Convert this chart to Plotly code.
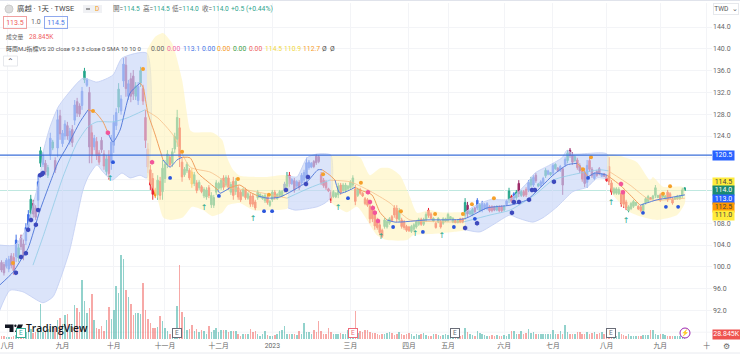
import plotly.graph_objects as go

# Candle colour codes: B blue, P crimson, R red, G green, O orange
codes = ("PPBBPRBGPP" "BBGPPBGBPG" "BGPBPBBPBP" "BPPBGBPRBR" "RPRGRBBBGB"
         "BPBPPGBGRR" "RRROGRGGGR" "GGGRRGGROG" "RGRGGRGGGG" "GRGRGRGRRG"
         "RGRRRGGGGR" "GGRGGGBGRB" "PBPBBBBBPP" "PRRRRRGGGR" "GGGGGRGRRR"
         "RRRRRRRGGG" "RRRGRRRRGG" "GGRGGRRGRG" "RGGGGGRGRR" "GPGGPBGBBB"
         "RRPGRRGBGR" "BGPGRRBGBP" "GBBGBGBGPB" "PBGPPGRPRP" "BRPBPPBPRR"
         "RGGGRRRGGG" "GRRGGGRGGG" "RGGRRRGGGGG")

opens = [100.8,100.4,100.1,99.6,102.0,101.7,101.9,101.6,105.3,104.2,
 104.8,107.2,109.8,111.6,110.8,112.2,119.0,118.8,119.0,116.8,
 120.6,121.8,119.5,121.8,127.7,122.6,124.0,125.9,123.0,125.2,
 126.9,130.3,129.5,129.6,134.3,133.3,132.0,124.6,122.0,123.0,
 120.9,123.2,120.7,117.5,120.3,119.1,122.3,125.9,129.3,128.6,
 134.1,137.0,131.3,134.5,135.0,131.3,130.5,133.7,132.7,127.4,
 121.6,117.8,116.2,114.1,113.2,115.7,113.8,116.2,118.8,120.1,
 119.0,121.6,123.4,125.5,119.2,116.9,117.6,117.7,117.4,115.3,
 115.4,114.5,114.7,113.0,112.8,114.5,111.4,111.3,113.7,114.4,
 114.5,116.3,115.0,116.3,113.7,115.7,113.8,114.5,113.7,113.1,
 114.1,112.6,113.0,113.0,111.9,112.7,112.8,112.5,112.1,112.8,
 111.3,112.3,113.7,112.5,113.1,113.1,114.0,114.8,116.8,115.3,
 115.8,114.8,115.5,115.4,115.9,116.3,118.2,118.3,119.3,120.3,
 120.2,116.9,115.9,115.5,114.3,113.6,112.9,112.8,113.2,115.0,
 114.0,114.0,114.3,114.5,115.0,114.3,113.1,114.2,113.5,112.5,
 112.3,111.1,110.7,109.7,108.6,107.7,106.7,107.4,107.3,108.0,
 109.2,110.8,110.7,108.7,108.6,108.2,107.4,107.3,106.5,106.9,
 107.3,107.8,108.7,107.8,108.6,110.4,109.7,108.4,108.0,108.2,
 108.3,108.0,108.4,108.5,108.7,108.2,108.5,108.1,108.8,108.8,
 109.4,111.3,109.7,109.6,110.8,110.8,110.3,110.4,110.7,110.7,
 111.0,111.0,111.0,110.4,111.0,111.0,110.4,111.4,112.3,112.9,
 112.6,112.7,115.3,113.1,113.8,114.2,114.1,115.0,115.0,116.8,
 114.8,114.9,115.3,116.7,117.0,116.9,117.2,118.0,118.1,117.7,
 118.0,118.7,119.5,121.4,120.5,119.5,119.6,118.6,117.6,117.4,
 115.5,119.5,117.9,116.2,117.5,118.0,116.6,117.1,116.6,118.4,
 115.4,113.5,113.5,113.4,113.5,113.4,111.9,110.3,110.7,111.1,
 111.3,111.1,111.0,110.3,111.7,112.0,112.7,112.5,113.1,112.7,
 113.2,112.8,112.5,113.7,113.4,112.5,112.4,112.5,112.5,113.0,114.5]

highs = [101.2,100.9,101.6,102.0,102.5,102.5,105.9,104.2,105.9,105.0,
 108.0,110.4,113.2,112.3,111.3,116.8,122.0,121.0,119.6,118.7,
 124.6,123.3,120.1,128.8,128.8,125.1,126.9,126.6,125.5,126.0,
 130.6,131.0,130.0,133.0,136.5,134.6,133.0,126.0,124.2,123.8,
 121.4,123.8,121.4,120.5,121.4,124.2,127.9,129.1,133.7,131.5,
 138.3,138.5,134.3,135.6,136.1,133.9,133.9,136.7,133.4,128.8,
 122.7,118.7,117.2,114.5,116.8,116.5,119.6,119.6,121.4,120.5,
 121.8,124.6,128.8,127.3,120.1,118.3,119.2,118.1,118.1,117.4,
 115.9,115.9,115.0,114.6,114.6,115.0,113.7,113.2,115.9,115.6,
 116.3,116.8,116.8,116.8,115.6,116.5,116.3,115.0,114.1,114.5,
 114.5,113.7,113.5,113.5,112.3,114.1,113.5,113.2,113.5,113.2,
 112.3,114.1,114.1,113.5,114.1,114.1,115.6,117.4,117.4,116.3,
 116.3,115.9,115.9,117.2,117.8,120.0,119.6,119.2,119.6,120.7,
 120.5,117.4,116.3,115.9,114.5,114.1,114.1,113.7,115.4,115.4,
 115.4,115.4,115.0,115.9,116.8,115.0,114.5,114.5,113.7,112.8,
 112.6,111.9,111.3,110.4,109.0,108.2,107.0,109.0,108.6,109.1,
 109.5,111.3,111.3,110.8,109.0,108.6,107.7,107.5,107.7,108.0,
 108.6,109.0,109.0,109.0,110.0,110.8,110.0,109.1,108.2,109.1,
 108.6,109.1,109.0,109.9,109.3,109.1,108.6,108.6,109.0,109.0,
 112.6,111.9,110.4,110.8,111.0,112.6,111.7,112.1,111.7,111.9,
 111.3,111.3,111.2,111.3,111.3,111.3,111.3,112.3,114.5,113.2,
 113.7,114.1,115.9,114.1,114.1,114.6,115.9,116.5,116.8,117.2,
 115.4,115.9,116.5,118.1,117.8,117.4,119.0,119.0,118.3,118.7,
 118.3,120.1,121.4,121.8,121.0,120.5,120.0,119.0,118.1,118.1,
 119.6,120.0,118.3,117.4,117.8,118.3,117.2,117.2,116.8,120.1,
 115.9,114.6,114.6,114.6,114.1,114.1,112.3,111.3,111.9,112.3,
 111.9,111.3,111.3,111.7,112.8,113.2,112.8,113.2,115.0,113.2,
 113.5,113.5,113.2,114.1,113.7,112.8,112.8,113.2,113.2,114.5,114.5]

lows = [99.0,98.4,99.7,99.0,99.7,98.5,100.9,100.9,103.1,101.2,
 104.0,106.4,109.0,109.0,108.6,111.0,118.3,118.3,116.8,116.3,
 119.6,121.4,117.2,120.1,123.3,122.0,123.3,123.3,122.4,122.0,
 126.0,127.5,127.5,128.8,133.7,133.0,119.0,119.0,121.4,119.6,
 118.7,120.9,117.8,116.8,116.0,117.8,120.9,125.1,128.2,127.9,
 133.0,131.2,130.6,130.2,130.6,130.6,129.7,133.0,129.7,121.8,
 117.2,114.1,112.3,112.6,112.3,112.3,112.3,115.4,118.1,118.3,
 118.3,120.9,122.0,118.3,115.6,116.5,117.2,115.9,114.5,114.8,
 113.5,114.1,113.5,112.6,112.3,112.6,110.8,110.8,113.2,114.1,
 114.1,114.1,114.6,114.1,113.2,112.3,113.2,112.3,111.9,112.8,
 112.3,112.3,111.0,111.0,110.4,112.3,112.6,112.3,111.7,111.4,
 111.0,111.9,112.3,112.3,112.8,112.8,113.6,114.1,114.6,115.0,
 113.6,114.5,114.1,115.0,115.4,115.4,117.8,118.1,118.1,118.7,
 119.0,115.0,114.5,114.1,113.7,111.7,112.6,112.6,112.6,113.2,
 113.6,113.6,114.1,114.1,114.5,111.3,112.8,113.2,112.8,111.3,
 111.0,108.0,108.2,106.8,106.8,105.8,105.3,107.0,107.0,107.7,
 108.2,109.0,108.2,108.2,107.0,106.8,106.4,106.4,106.2,106.6,
 107.0,107.5,107.5,107.5,108.2,109.0,108.6,108.2,107.0,108.0,
 107.0,107.7,108.2,108.2,108.6,108.0,108.0,108.0,108.0,108.0,
 108.6,109.1,109.5,109.3,109.9,110.4,110.0,110.0,110.4,110.4,
 110.0,110.0,110.2,110.2,110.0,110.0,110.2,111.2,111.7,111.7,
 112.3,112.3,112.8,112.8,112.8,112.8,113.7,114.6,114.6,115.4,
 114.6,114.6,115.0,116.3,116.8,116.7,116.8,117.8,117.4,117.4,
 113.2,118.3,119.0,120.0,118.7,119.2,117.8,117.2,115.6,114.6,
 114.5,117.4,116.3,115.9,116.5,116.8,116.5,116.5,115.6,115.0,
 113.2,113.2,113.2,113.2,111.0,110.8,110.4,110.0,110.4,110.8,
 111.2,110.4,110.0,110.0,111.4,111.7,112.3,112.3,112.6,112.6,
 111.9,112.6,112.3,111.9,112.3,111.4,112.3,112.3,112.3,112.6,114.0]

closes = [99.4,98.9,101.2,101.4,100.3,99.3,104.9,103.5,103.7,102.0,
 107.2,109.6,112.4,109.7,109.1,115.6,121.3,120.5,117.4,118.2,
 123.6,122.9,117.8,127.0,124.4,124.5,126.2,124.0,124.9,122.8,
 129.7,128.2,128.0,132.2,135.9,134.3,122.0,120.4,123.6,120.4,
 119.2,121.5,118.5,119.8,117.1,122.9,126.5,128.3,132.6,130.8,
 137.2,132.7,133.6,131.3,131.7,133.2,133.1,136.0,130.4,123.2,
 118.3,115.0,113.3,113.0,115.9,113.1,118.1,118.8,120.7,118.7,
 121.1,123.9,127.4,120.1,116.5,117.9,118.8,116.3,115.2,116.9,
 114.0,115.5,113.8,114.2,114.1,113.1,113.1,112.7,115.4,115.3,
 115.9,114.6,116.4,114.6,115.1,113.1,115.7,112.8,112.3,114.2,
 112.7,113.4,111.5,111.5,110.8,113.7,113.3,113.0,113.1,111.8,
 112.0,113.7,112.7,113.3,113.8,113.8,115.2,116.7,115.2,116.0,
 114.1,115.6,114.5,116.8,117.3,119.1,119.2,119.0,118.4,119.1,
 119.3,115.5,114.9,114.5,113.9,112.2,113.8,113.5,114.8,113.6,
 115.0,115.0,114.8,115.5,116.3,112.0,114.2,113.5,113.0,111.6,
 111.3,108.8,108.8,107.5,107.2,106.3,105.6,108.6,108.3,108.8,
 108.5,109.5,108.8,110.3,107.4,107.2,106.7,106.6,107.4,107.7,
 108.3,108.7,107.8,108.7,109.6,109.4,108.9,108.9,107.2,108.9,
 107.3,108.8,108.8,109.6,109.2,108.9,108.1,108.5,108.2,108.2,
 111.8,109.7,110.2,110.5,110.1,112.2,111.4,111.7,111.4,111.6,
 110.3,110.3,110.4,111.1,110.3,110.3,111.1,112.1,113.9,112.0,
 113.4,113.7,113.4,113.8,113.1,113.2,115.5,116.1,116.4,115.8,
 115.2,115.6,116.2,117.7,117.6,117.3,118.6,118.8,117.6,118.4,
 115.0,119.7,120.9,120.4,119.2,120.2,118.2,117.6,116.1,115.3,
 118.6,117.9,116.7,117.1,116.8,117.1,117.1,116.6,115.8,115.6,
 113.7,114.3,114.3,114.2,111.6,111.5,110.8,111.0,111.6,112.0,
 111.8,110.6,110.3,111.4,112.5,112.9,112.4,113.0,114.5,113.1,
 112.2,113.3,113.0,112.3,112.6,111.7,112.7,113.0,113.0,114.1,114.0]

volumes = [32,32,24,24,20,40,48,56,72,80,
 88,100,120,72,80,112,420,80,100,120,
 112,140,128,232,248,180,284,296,160,140,
 412,372,324,712,456,316,372,540,224,132,
 124,152,92,224,384,244,344,636,552,1012,
 960,584,504,424,292,312,312,300,672,344,
 244,196,136,136,144,272,216,136,96,64,
 64,64,392,884,324,264,104,124,164,96,
 124,84,104,92,64,152,84,112,132,84,
 112,104,104,84,96,96,96,64,32,56,
 56,64,116,84,96,64,36,56,92,44,
 36,32,44,64,96,104,152,64,64,56,
 64,44,96,56,192,84,84,56,112,84,
 212,96,64,64,136,84,64,64,64,72,
 64,56,104,80,100,332,72,96,84,112,
 112,80,72,68,60,48,64,56,72,88,
 72,48,56,80,64,48,56,72,56,40,
 56,48,64,72,48,40,40,56,64,48,
 40,48,56,52,56,48,48,56,40,48,
 132,88,56,48,40,100,72,56,48,40,
 40,48,40,48,40,40,48,40,56,96,
 100,56,56,100,56,72,120,72,80,56,
 56,60,60,56,64,56,112,60,56,100,
 64,168,88,64,56,56,80,80,56,64,
 88,56,72,80,56,72,80,56,60,48,
 48,40,40,88,64,48,40,56,40,32,
 32,40,40,48,48,48,112,112,56,48,
 56,56,48,32,32,32,40,40,32,32,28.845]

tick_pos = [2.4,25,46,67,89,111,143,167,183,206,226,248,270,289]
tick_txt = ["八月","九月","十月","十一月","十二月","2023","三月","四月","五月","六月","七月","八月","九月","十"]
price_ticks = [92,96,100,104,108,124,128,132,136,140,144]
hidden_ticks = [88,112,116,120]

# Band envelopes (index, price)
b1_ux=[-1,5.5,10.5,13.7,15.8,17,19.9,23.2,26.8,33.4,39.1,45.7,49.4,59.6]
b1_uy=[104,104,107.3,112.8,116.5,120.9,125.7,129.3,131.5,134.6,133.9,135.2,138.3,139.2]
b1_lx=[-1,3.5,8.8,17,21.1,24,28,33.4,35.5,39.1,41.6,45.3,49.4,52.7,56.8,59.6]
b1_ly=[91.7,95.7,95.4,93.4,94.5,97.6,103.1,114.1,116.5,118.7,117.4,115.9,117.2,116.3,116.8,116.3]
y1_ux=[59.6,63,66.2,69.9,74,77.3,78.5,86.7,90.4,92.4,94.9,97.7,108.8,117.4]
y1_uy=[139.8,142.2,142.9,141,134.3,125.1,124.7,124.6,123.3,120.1,117.8,116.7,116.5,116.7]
y1_lx=[59.6,63.7,66.2,69.1,74.4,78.1,82.6,86.3,90.4,92.8,97.7,103.1,111.3,117.4]
y1_ly=[116.3,112.8,109.1,108.6,109.1,111,110.4,109.3,109.9,111.3,111.7,110.4,110.4,110.8]
b2_ux=[117.4,121.1,125.2,129.3,135]
b2_uy=[116.7,116.5,120,120.7,120.5]
b2_lx=[117.4,120.3,129.3,132.6,135]
b2_ly=[110.8,110.4,111,111.7,112.8]
y2_ux=[135,146.9,149,151,155.1,159.2,163.3,167.4,170.3,175.6,179.7,189.1,190]
y2_uy=[120.5,120.1,118.3,116.8,118.1,118.1,116.8,112.8,109.9,110.4,110,110,110]
y2_lx=[135,135.4,141.6,145.7,153.9,158,166.2,168.7,175.6,185,190]
y2_ly=[112.8,111.7,110,111,105.8,104.9,104.9,105.8,106,106.4,106.8]
b3_ux=[190,193.2,200.2,207.2,209.6,215.4,218.6,224.8,229.7,231.8,234.2,248.2]
b3_uy=[110,111,112.3,112.3,112.8,115.4,117.2,118.7,120,121.4,120.7,120.7]
b3_lx=[190,196.1,201.4,208.4,211.3,217.8,221.9,227.7,234.2,240,244.1,248.2]
b3_ly=[106.8,106.4,107.7,109.5,109,108.2,109,111,113.8,114.6,116.3,116.3]
y3_ux=[248.2,252.2,260.4,265.8,267,271.1,278.9,280.1]
y3_uy=[120.7,120.5,119.2,115.9,116.5,114.7,114.7,114.1]
y3_lx=[248.2,250.6,257.6,263.7,268.7,276.9,280.1]
y3_ly=[116.3,113.2,110,109,108.6,109.5,111.7]

# Fast line pieces
fast_pieces = [
 ("B",[-0.6,4.7,8.4,10.9,15.8,19.9,23.2,26.8,32.2,35.5],[96.7,99,101.6,103.4,110.4,115.4,119.2,122,126.6,128.8]),
 ("O",[35.5,38.3,41.6,43.6],[128.8,128.4,126.6,124.6]),
 ("B",[43.6,45.7,48.6,52.7,56.8],[124.6,122.9,125.1,131.9,133.7]),
 ("O",[56.8,58,60,63,66.2],[133.7,133,128.2,124.2,119.6]),
 ("B",[66.2,69.1,71.9,74],[119.6,118.3,119.6,120.1]),
 ("O",[74,77.3,80.5,84.6,88.7],[120.1,120,117.2,115.6,114.1]),
 ("B",[88.7,89.5,93.6],[114.1,113.5,114.5]),
 ("O",[93.6,97.7,101.8,105.1],[114.5,115,113.7,113]),
 ("B",[105.1,108.8,114.1,125.2,129.7,131.4],[113,112.6,112.8,115.6,117.8,117.8]),
 ("O",[131.4,134.6,136.7],[117.8,116.8,115.9]),
 ("B",[136.7,138.7,142.8,144.9],[115.9,113.5,114.1,114.6]),
 ("O",[144.9,146.9,151.8,155.1,158],[114.6,114.1,113.2,110,108.6]),
 ("B",[158,161.3,174.4,189.6,199,208.4,215.4,226,231.8,236],[108.6,108.2,108.6,108.8,110.8,111.3,112.3,116.8,118.7,119]),
 ("O",[236,238.3,240.4],[119,117.8,116.5]),
 ("B",[240.4,243.2,248.2],[116.5,117.2,116.8]),
 ("O",[248.2,253.5,257.6,261.7],[116.8,115,113.2,111.3]),
 ("B",[261.7,268.7,272.8,280.1],[111.3,112.3,112.6,113.2]),
]
# Slow line pieces
slow_pieces = [
 ("B",[12.9,17,25.2,30.9,35.5,39.1,45.7,51.4,58.8],[100.3,105.5,116.5,122.7,125.7,126.6,126.6,127.3,128.8]),
 ("O",[58.8,64.1,70.3,77.3,85.4,89.5,93.6,100.6,117],[128.8,127.3,124.2,118.3,117.4,116.3,114.5,114.1,112.6]),
 ("B",[117,126.4,134.6],[112.6,114.5,115.9]),
 ("O",[134.6,142.8,150.2,159.2,164.5,167.4,189.1],[115.9,115.6,114.1,111.7,109.5,108.6,108.2]),
 ("B",[189.1,200.2,208.4,218.6,226,233,245.3,248.7],[108.2,109.5,110.4,113.2,115.9,116.8,117.8,117.6]),
 ("O",[248.7,257.6,265.8,280.1],[117.6,115,112.3,112.6]),
]

hex_x=[5.9,8,10,10.9,12.1,14.1,15,15.8,16.6,17,116.6,124.8,125.6,190,194.9,209.2,210,212.1,216.2,217.4,218.6,226.4]
hex_y=[98.9,101.8,102.5,106.8,108.6,107.7,110.4,116.8,117,117.2,114.1,115.2,116.5,107.1,108,109.9,111.9,111.9,112.3,114.1,114.1,115.6]
org_x=[4.7,37.5,58,74,96.9,109.6,131.8,147.3,163.7,177.7,189.1,192.8,201.8,238.3,241.6,271.1,274]
org_y=[100.7,128.6,136.3,121.1,116.1,113.2,117,115.4,110.2,109.7,109.7,111.5,112.6,117.9,120.1,113.4,114.8]
pink_x=[43.6,61.7,150.2,151,152.2,153,154.3,253.9,254.7]
pink_y=[124.6,119.2,113.7,111.9,110.8,109.9,108.4,115.2,113.7]
dot_x=[45.7,69.1,89.1,107.6,110.9,142,160.5,172.7,185.4,194,240.4,262.9,272.3,277.3]
dot_y=[119.2,116.3,113,110.2,110.2,112.6,107.3,106.4,107.3,108.8,116.3,109.9,111,111]
arr_x=[44.5,83,103.1,137.9,155.5,169.5,180.5,249.8,256]
arr_y=[116.1,110.8,108.8,110.8,105.5,106,105.7,111.7,108.4]

assert len(codes)==len(opens)==len(highs)==len(lows)==len(closes)==len(volumes), (len(codes),len(opens),len(highs),len(lows),len(closes),len(volumes))

W, H = 740, 354
L, R, T, B = 0, 28, 3, 14
PW, PH = W-L-R, H-T-B
STEP = 2.44
xmin = (0-1.5)/STEP
xmax = (PW-1.5)/STEP
def py2price(y): return 144-(y-27)/5.45
def px(x): return x/PW
def py(y): return 1-(y-T)/PH

FONT = "Roboto, 'Noto Sans CJK TC', sans-serif"
CN = {"B":"#3f6fe6","P":"#9c2a68","R":"#ec2433","G":"#25a68c","O":"#f59a23"}
FILL_B = "rgba(200,214,247,0.65)"
FILL_Y = "rgba(255,243,186,0.6)"
fig = go.Figure()

for ux,uy,lx,ly,col,line in [
    (b1_ux,b1_uy,b1_lx,b1_ly,FILL_B,"#c0cdf2"),
    (y1_ux,y1_uy,y1_lx,y1_ly,FILL_Y,"rgba(0,0,0,0)"),
    (b2_ux,b2_uy,b2_lx,b2_ly,FILL_B,"#c0cdf2"),
    (y2_ux,y2_uy,y2_lx,y2_ly,FILL_Y,"rgba(0,0,0,0)"),
    (b3_ux,b3_uy,b3_lx,b3_ly,FILL_B,"#c0cdf2"),
    (y3_ux,y3_uy,y3_lx,y3_ly,FILL_Y,"rgba(0,0,0,0)")]:
    fig.add_trace(go.Scatter(x=ux+lx[::-1], y=uy+ly[::-1], mode="lines", fill="toself",
                             fillcolor=col, line=dict(color=line,width=0.8,shape="spline",smoothing=0.6), hoverinfo="skip"))

for c,xs,ys in slow_pieces:
    fig.add_trace(go.Scatter(x=xs,y=ys,mode="lines",hoverinfo="skip",
        line=dict(color="#8fcbe6" if c=="B" else "#f6c08c",width=0.8,shape="spline",smoothing=0.6)))
for c,xs,ys in fast_pieces:
    fig.add_trace(go.Scatter(x=xs,y=ys,mode="lines",hoverinfo="skip",
        line=dict(color="#5a7fdc" if c=="B" else "#f0a060",width=1,shape="spline",smoothing=0.6)))

vc = ["rgba(38,166,154,0.5)" if c in "GB" else "rgba(239,83,80,0.5)" for c in codes]
fig.add_trace(go.Bar(x=list(range(len(volumes))),y=volumes,marker=dict(color=vc,line_width=0),width=0.62,yaxis="y2",hoverinfo="skip"))

for code,col in CN.items():
    idx=[i for i,c in enumerate(codes) if c==code]
    fig.add_trace(go.Candlestick(x=idx,open=[opens[i] for i in idx],high=[highs[i] for i in idx],
        low=[lows[i] for i in idx],close=[closes[i] for i in idx],whiskerwidth=0,
        increasing=dict(line=dict(color=col,width=1),fillcolor=col),
        decreasing=dict(line=dict(color=col,width=1),fillcolor=col),hoverinfo="skip"))

def mk(xs,ys,sym,size,col):
    fig.add_trace(go.Scatter(x=xs,y=ys,mode="markers",hoverinfo="skip",
        marker=dict(symbol=sym,size=size,color=col,line_width=0)))
mk(hex_x,hex_y,"hexagon",5,"#3d49bd")
mk(org_x,org_y,"circle",4,"#f5a02a")
mk(pink_x,pink_y,"hexagon",5,"#f2559a")
mk(dot_x,dot_y,"circle",3.8,"#2b56dc")
fig.add_trace(go.Scatter(x=arr_x,y=arr_y,mode="text",text=["↑"]*len(arr_x),hoverinfo="skip",
    textfont=dict(size=8,color="#25a68c",family="DejaVu Sans"),textposition="middle center"))

A=[]
def txt(t,x,y,size=7,color="#555",anchor="left",**kw):
    A.append(dict(text=t,x=px(x),y=py(y),xref="paper",yref="paper",xanchor=anchor,yanchor="middle",
                  showarrow=False,font=dict(size=size,color=color,family=FONT),**kw))

G="#2fa58e"
txt("廣越 · 1天 · TWSE",15,9,7.4,"#444")
txt("D",96.5,9,6.5,"#f59a23","center")
for lab,val,x in [("開","114.5",111),("高","114.5",141),("低","114.0",170),("收","114.0",200)]:
    txt(f"{lab}=<span style='color:{G}'>{val}</span>",x,9,6.6,"#666")
txt("+0.5 (+0.44%)",229,9,6.8,G)
txt("113.5",15,22.5,7,"#ee5a5a","center",width=20,height=9,bordercolor="#f0a0a0",borderwidth=1,borderpad=1)
txt("1.0",35.5,22.5,7,"#666","center")
txt("114.5",55.5,22.5,7,"#4a78e6","center",width=20,height=9,bordercolor="#8fa9ee",borderwidth=1,borderpad=1)
txt("成交量",4,37,5.8,"#666")
txt("28.845K",27,37,6.6,"#ef5f5f")
txt("時雨MJ指標VS 20 close 9 3 3 close 0 SMA 10 10 0",4,49,6,"#555")
for t,x,c in [("0.00",149,"#666"),("0.00",165,"#f06aa8"),("113.1",181,"#4a78e6"),("0.00",200,"#4a78e6"),
              ("0.00",215,"#f59a23"),("0.00",231,"#43a047"),("0.00",247,"#ef5f5f"),("114.5",263,"#f0d840"),
              ("110.9",282,"#f0d840"),("112.7",301,"#f59a23"),("Ø",320,"#555"),("Ø",328,"#555")]:
    txt(t,x,49,6.8,c)
txt("⌃",10.5,62,8,"#444","center")
txt("TWD  ⌄",726,9,6.6,"#555","center",width=24,height=10,bordercolor="#e6e8ec",borderwidth=1,borderpad=0)

# Price tags
for t,y,bg,fg in [("120.5",155,"#2962ff","#fff"),("114.5",182,"#ffeb3b","#444"),("114.0",190.5,"#1b8a72","#fff"),
                  ("113.0",199.5,"#2962ff","#fff"),("112.5",207.5,"#ff9800","#444"),("111.0",216,"#ffeb3b","#444"),
                  ("28.845K",334,"#ef5350","#fff")]:
    A.append(dict(text=t,x=px(712),y=py(y),xref="paper",yref="paper",xanchor="left",yanchor="middle",
                  showarrow=False,width=21 if t!="28.845K" else 27,height=8.5,bgcolor=bg,borderpad=0,
                  font=dict(size=7,color=fg,family=FONT)))

# Earnings flags
for x,col in [(21,"#35ad96"),(177,"#6a6d78"),(353,"#ee6a7a"),(455,"#6a6d78"),(611,"#6a6d78")]:
    txt("E",x,332.5,6.5,col,"center",width=8,height=8,bordercolor=col,borderwidth=1,borderpad=0,bgcolor="#fff")
txt("TradingView",24,328,10.3,"#131722")
A[-1]["font"]["family"]="'Open Sans', sans-serif"
A[-1]["font"]["weight"]=600
txt("⚡",685,333,6.5,"#9c27b0","center")
txt("⚙",727,346.5,8,"#666","center")

S=[
 dict(type="line",xref="paper",yref="y",x0=0,x1=1,y0=120.5,y1=120.5,line=dict(color="#3b6fd9",width=1.4),layer="above"),
 dict(type="line",xref="paper",yref="y",x0=0,x1=1,y0=114,y1=114,line=dict(color="#bfe8e0",width=1),layer="below"),
 dict(type="line",xref="paper",yref="paper",x0=0,x1=W/PW,y0=py(0.5),y1=py(0.5),line=dict(color="#e0e3eb",width=1)),
 dict(type="line",xref="paper",yref="paper",x0=0,x1=W/PW,y0=py(353),y1=py(353),line=dict(color="#e8eaef",width=1)),
 dict(type="rect",xref="paper",yref="paper",x0=px(3.5),x1=px(17.5),y0=py(66),y1=py(56),line=dict(color="#e6e8ec",width=1),fillcolor="#fff"),
 dict(type="circle",xref="paper",yref="paper",x0=px(5),x1=px(13),y0=py(13),y1=py(5),line=dict(color="#ccc",width=1),fillcolor="#ddd"),
 dict(type="rect",xref="paper",yref="paper",x0=px(83),x1=px(102),y0=py(13),y1=py(5),line_width=0,fillcolor="#f0f1f4"),
 dict(type="line",xref="paper",yref="paper",x0=px(86),x1=px(90),y0=py(9),y1=py(9),line=dict(color="#666",width=1.2)),
 dict(type="circle",xref="paper",yref="paper",x0=px(680),x1=px(690),y0=py(338),y1=py(328),line=dict(color="#9c27b0",width=1),fillcolor="#fff",layer="above"),
 dict(type="path",xref="paper",yref="paper",fillcolor="#131722",line_width=0,
      path=f"M{px(5)},{py(324.5)} L{px(13.5)},{py(324.5)} L{px(13.5)},{py(332)} L{px(9.5)},{py(332)} L{px(9.5)},{py(328)} L{px(5)},{py(328)} Z"),
 dict(type="path",xref="paper",yref="paper",fillcolor="#131722",line_width=0,
      path=f"M{px(18)},{py(324.5)} L{px(23)},{py(324.5)} L{px(19.5)},{py(332)} L{px(15)},{py(332)} Z"),
 dict(type="circle",xref="paper",yref="paper",x0=px(14.2),x1=px(16.6),y0=py(327),y1=py(324.6),fillcolor="#131722",line_width=0),
]
# Grid lines for levels whose axis labels sit beneath the price tags in the reference
for lv in hidden_ticks:
    S.append(dict(type="line",xref="paper",yref="y",x0=0,x1=1,y0=lv,y1=lv,line=dict(color="#f3f4f7",width=1),layer="below"))

fig.update_layout(width=W,height=H,margin=dict(l=L,r=R,t=T,b=B),paper_bgcolor="#fff",plot_bgcolor="#fff",
    showlegend=False,font=dict(family=FONT,size=7,color="#666"),annotations=A,shapes=S,bargap=0,boxmode="overlay",boxgap=0.12,
    xaxis=dict(range=[xmin,xmax],tickmode="array",tickvals=tick_pos,ticktext=tick_txt,showgrid=True,gridcolor="#f3f4f7",
               gridwidth=1,zeroline=False,showline=False,ticks="",rangeslider=dict(visible=False),
               tickfont=dict(size=6.8,color="#666")),
    yaxis=dict(range=[py2price(T+PH),py2price(T)],side="right",tickmode="array",tickvals=price_ticks,tickformat=".1f",
               showgrid=True,gridcolor="#f3f4f7",zeroline=False,showline=False,ticks="",tickfont=dict(size=7,color="#666")),
    yaxis2=dict(range=[-12,4032],overlaying="y",side="left",visible=False,showgrid=False,fixedrange=True))

fig.write_html("out.html",config={"displayModeBar":False},
    post_script="document.body.style.margin='0';document.documentElement.style.overflow='hidden';")
